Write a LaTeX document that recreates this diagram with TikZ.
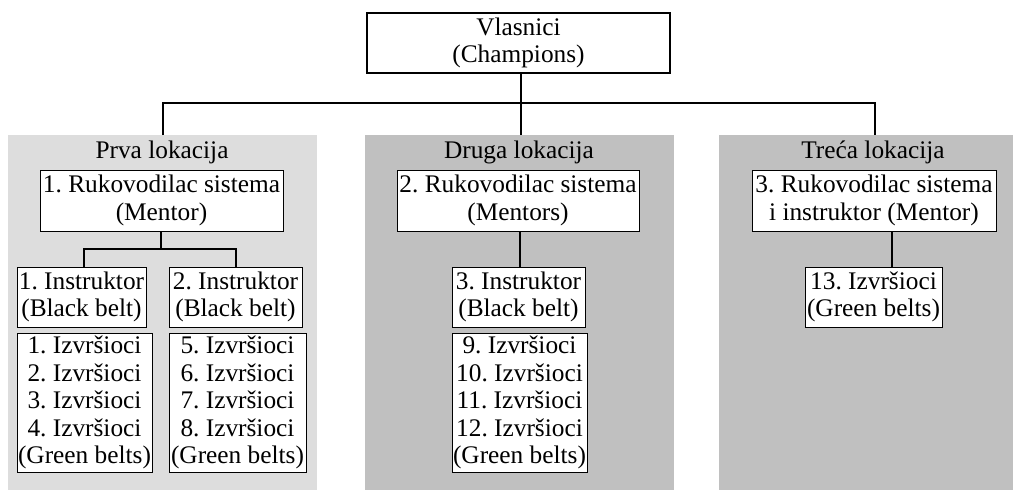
\documentclass[tikz,border=0pt]{standalone}
\usepackage{fontspec}
\setmainfont{Liberation Serif}
\usepackage{tikz}
\usetikzlibrary{positioning}
\frenchspacing

\definecolor{panelone}{RGB}{221,221,221}
\definecolor{paneltwo}{RGB}{192,192,192}

\tikzset{
    orgbox/.style={draw, fill=white, line width=0.75pt, inner sep=0pt, align=center},
    thickconn/.style={line width=1.6pt},
    thinconn/.style={line width=0.8pt}
}

\begin{document}
\begin{tikzpicture}[x=0.75pt, y=-0.75pt, font=\fontsize{19}{20.6}\selectfont]
        \useasboundingbox (0,0) rectangle (1013,490);

        % Location panels
        \fill[panelone] (8,135) rectangle (317,490);
        \fill[paneltwo] (365,135) rectangle (674,490);
        \fill[paneltwo] (719,135) rectangle (1013,490);

        % Panel tops
        \coordinate (p1) at (163,135);
        \coordinate (p2) at (521,135);
        \coordinate (p3) at (875,135);
        \coordinate (bar) at (521,103);

        % Owners
        \node[orgbox, line width=1.1pt, minimum width=303*0.75pt, minimum height=60*0.75pt] (owners) at (518.5,43) {Vlasnici\\(Champions)};

        % Connectors to the locations
        \draw[thickconn] (owners.south -| p2) -- (p2);
        \draw[thickconn] (p1) |- (bar) -| (p3);

        % Panel titles
        \node (title1) at (162,152) {Prva lokacija};
        \node (title2) at (519,152) {Druga lokacija};
        \node (title3) at (873,152) {Treća lokacija};

        % First location
        \node[orgbox, minimum width=243*0.75pt, minimum height=61*0.75pt] (ruk1) at (161.5,200.5) {1. Rukovodilac sistema\\(Mentor)};
        \node[orgbox, minimum width=129*0.75pt, minimum height=60*0.75pt] (instr1) at (81.5,297) {1. Instruktor\\(Black belt)};
        \node[orgbox, minimum width=133*0.75pt, minimum height=60*0.75pt] (instr2) at (235.5,297) {2. Instruktor\\(Black belt)};
        \node[orgbox, minimum width=135*0.75pt, minimum height=139*0.75pt] (izv1) at (84.5,402.5) {1. Izvršioci\\2. Izvršioci\\3. Izvršioci\\4. Izvršioci\\(Green belts)};
        \node[orgbox, minimum width=137*0.75pt, minimum height=139*0.75pt] (izv2) at (237.5,402.5) {5. Izvršioci\\6. Izvršioci\\7. Izvršioci\\8. Izvršioci\\(Green belts)};

        \coordinate (j1) at (161,249);
        \draw[thinconn] (ruk1.south -| j1) -- (j1);
        \draw[thinconn] (instr1.north -| 84,0) |- (j1) -| (instr2.north -| 236,0);

        % Second location
        \node[orgbox, minimum width=242*0.75pt, minimum height=61*0.75pt] (ruk2) at (518,200.5) {2. Rukovodilac sistema\\(Mentors)};
        \node[orgbox, minimum width=133*0.75pt, minimum height=60*0.75pt] (instr3) at (518.5,297) {3. Instruktor\\(Black belt)};
        \node[orgbox, minimum width=135*0.75pt, minimum height=139*0.75pt] (izv3) at (519.5,402.5) {9. Izvršioci\\10. Izvršioci\\11. Izvršioci\\12. Izvršioci\\(Green belts)};

        \draw[thinconn] (ruk2.south -| 520,0) -- (instr3.north -| 520,0);

        % Third location
        \node[orgbox, minimum width=244*0.75pt, minimum height=61*0.75pt] (ruk3) at (874,200.5) {3. Rukovodilac sistema\\i instruktor (Mentor)};
        \node[orgbox, minimum width=137*0.75pt, minimum height=60*0.75pt] (izv4) at (873.5,297) {13. Izvršioci\\(Green belts)};

        \draw[thinconn] (ruk3.south -| 892,0) -- (izv4.north -| 892,0);
    \end{tikzpicture}
\end{document}
